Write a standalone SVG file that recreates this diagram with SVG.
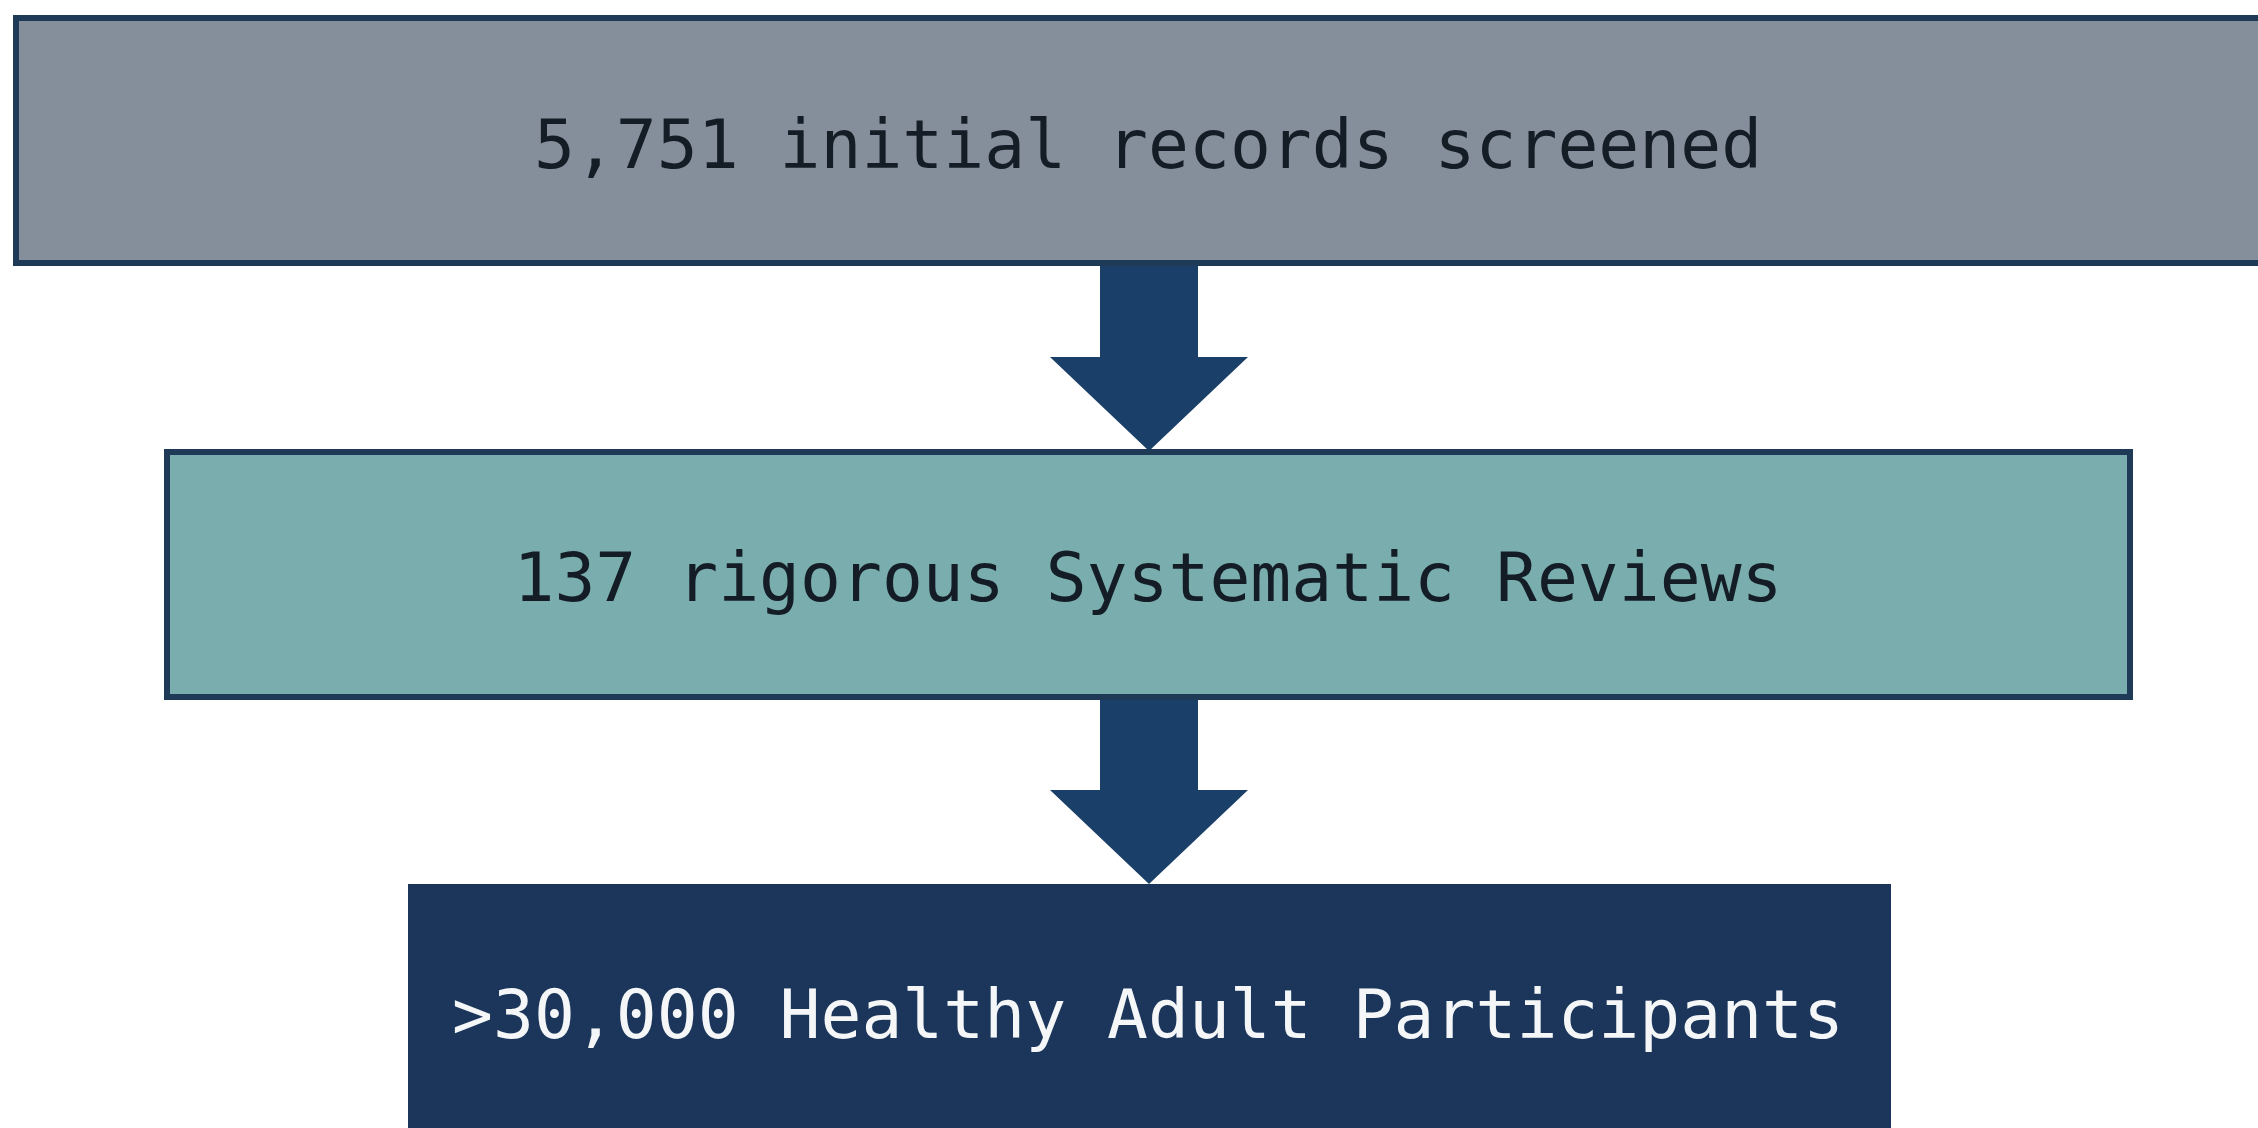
<svg xmlns="http://www.w3.org/2000/svg" width="2258" height="1128" viewBox="0 0 2258 1128">
<style>
.t{font-family:"DejaVu Sans Mono","Liberation Mono",monospace;font-size:68px;text-anchor:middle}
.dk{fill:#141c26}
.lt{fill:#f4f6f8}
.arrow{fill:#1a3f68}
</style>
<rect width="2258" height="1128" fill="#ffffff"/>
<g id="connectors">
<polygon class="arrow" points="1100,262 1198,262 1198,357 1248,357 1149,451 1050,357 1100,357"/>
<polygon class="arrow" points="1100,696 1198,696 1198,790 1248,790 1149,884 1050,790 1100,790"/>
</g>
<g id="node-records">
<rect x="16" y="18" width="2260" height="245" fill="#858f9b" stroke="#1e3a56" stroke-width="6"/>
<text class="t dk" x="1148" y="168">5,751 initial records screened</text>
</g>
<g id="node-reviews">
<rect x="167" y="452" width="1963" height="245" fill="#7aaeae" stroke="#1e3a56" stroke-width="6"/>
<text class="t dk" x="1148" y="601">137 rigorous Systematic Reviews</text>
</g>
<g id="node-participants">
<rect x="408" y="884" width="1483" height="260" fill="#1b365a"/>
<text class="t lt" x="1148" y="1038">&gt;30,000 Healthy Adult Participants</text>
</g>
</svg>
